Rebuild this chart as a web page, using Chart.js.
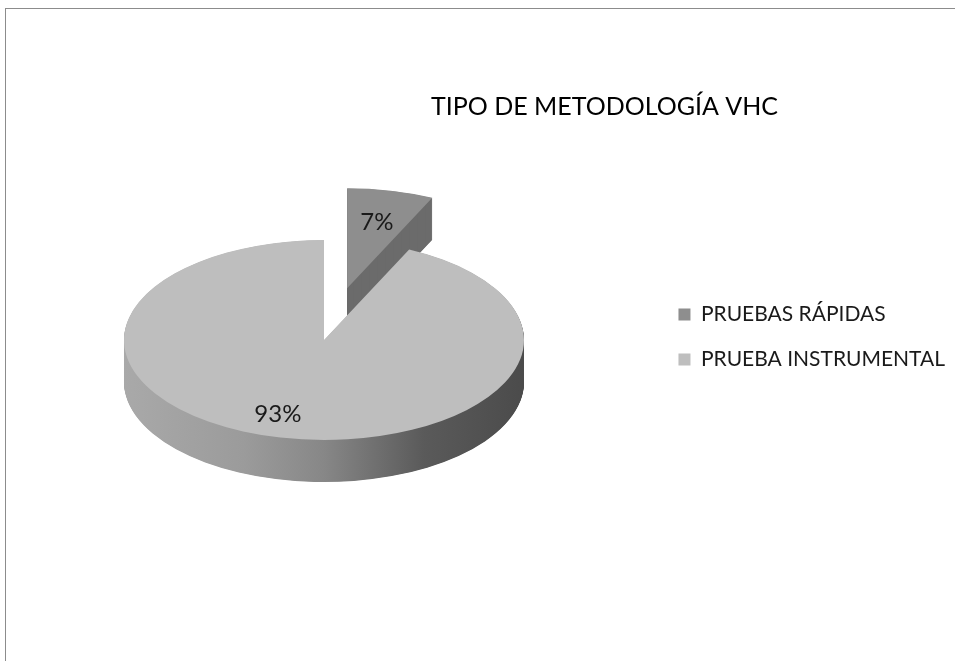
<!DOCTYPE html>
<html>
<head>
<meta charset="utf-8">
<script src="https://cdn.jsdelivr.net/npm/chart.js@4/dist/chart.umd.min.js"></script>
<style>
    html, body { margin: 0; padding: 0; background: #fff; }
    #frame { position: absolute; left: 5px; top: 8px; width: 1000px; height: 700px;
             border-left: 1px solid #8c8c8c; border-top: 1px solid #8c8c8c; }
    #wrap { position: absolute; left: 0; top: 0; width: 955px; height: 661px; }
</style>
</head>
<body>
<div id="frame"></div>
<div id="wrap"><canvas id="pieChart"></canvas></div>
<script>
const categories = ['PRUEBAS RÁPIDAS', 'PRUEBA INSTRUMENTAL'];
const percentages = [7, 93];
const topColors = ['#8e8e8e', '#bebebe'];
const explode = [106, 0];

/* vista 3D: centro en pantalla, inclinación y grosor */
const PIE_CENTER = { x: 324, y: 340 };
const TILT = 0.5;
const DEPTH = 84;

function arcShift(arc, i) {
    const half = (arc.startAngle + arc.endAngle) / 2;
    return { x: Math.cos(half) * explode[i], y: Math.sin(half) * explode[i] };
}

function applyView(ctx, arc) {
    ctx.translate(PIE_CENTER.x, PIE_CENTER.y);
    ctx.scale(1, TILT);
    ctx.translate(-arc.x, -arc.y);
}

const pie3d = {
    id: 'pie3d',
    beforeDatasetsDraw(chart) {
        const ctx = chart.ctx;
        const arcs = chart.getDatasetMeta(0).data;

        // separar la porción: cada arco se dibuja desplazado
        arcs.forEach((arc, i) => {
            if (arc._exploded) return;
            const baseDraw = arc.draw;
            arc.draw = function (c, area) {
                const s = arcShift(this, i);
                c.save();
                c.translate(s.x, s.y);
                baseDraw.call(this, c, area);
                c.restore();
            };
            arc._exploded = true;
        });

        ctx.save();
        applyView(ctx, arcs[0]);

        arcs.forEach((arc, i) => {
            const s = arcShift(arc, i);
            const cx = arc.x + s.x;
            const cy = arc.y + s.y;
            const r = arc.outerRadius;
            if (i === 0) {
                ctx.fillStyle = '#6b6b6b';
            } else {
                const g = ctx.createLinearGradient(cx - r, 0, cx + r, 0);
                g.addColorStop(0, '#a9a9a9');
                g.addColorStop(0.3, '#9b9b9b');
                g.addColorStop(0.5, '#878787');
                g.addColorStop(0.75, '#5a5a5a');
                g.addColorStop(1, '#4b4b4b');
                ctx.fillStyle = g;
            }
            for (let k = DEPTH; k > 0; k--) {
                ctx.beginPath();
                ctx.moveTo(cx, cy + k);
                ctx.arc(cx, cy + k, r, arc.startAngle, arc.endAngle);
                ctx.closePath();
                ctx.fill();
            }
        });
    },
    afterDatasetsDraw(chart) {
        chart.ctx.restore();
    },
    afterDraw(chart) {
        const ctx = chart.ctx;
        const arcs = chart.getDatasetMeta(0).data;
        const labelRadius = [0.68, 0.78];
        ctx.save();
        ctx.font = '24px Lato';
        ctx.fillStyle = '#1a1a1a';
        ctx.textAlign = 'center';
        ctx.textBaseline = 'middle';
        arcs.forEach((arc, i) => {
            const s = arcShift(arc, i);
            const mid = (arc.startAngle + arc.endAngle) / 2 + (i === 1 ? 0.08 : 0);
            const r = arc.outerRadius * labelRadius[i];
            const ux = arc.x + s.x + Math.cos(mid) * r;
            const uy = arc.y + s.y + Math.sin(mid) * r;
            const px = PIE_CENTER.x + (ux - arc.x);
            const py = PIE_CENTER.y + (uy - arc.y) * TILT;
            ctx.fillText(percentages[i] + '%', px, py);
        });
        ctx.restore();
    }
};

new Chart(document.getElementById('pieChart'), {
    type: 'pie',
    data: {
        labels: categories,
        datasets: [{
            data: percentages,
            backgroundColor: topColors,
            borderWidth: 0,
            radius: 200,
            rotation: 0,
            clip: false
        }]
    },
    options: {
        responsive: true,
        maintainAspectRatio: false,
        animation: false,
        layout: { padding: { left: 254, top: 13, right: 0, bottom: 0 } },
        plugins: {
            title: {
                display: true,
                text: 'TIPO DE METODOLOGÍA VHC',
                color: '#000',
                font: { family: 'Lato', size: 25, weight: 'normal' },
                padding: { top: 79, bottom: 36 }
            },
            legend: {
                position: 'right',
                labels: {
                    boxWidth: 12,
                    boxHeight: 12,
                    padding: 24,
                    color: '#1a1a1a',
                    font: { family: 'Lato', size: 21 }
                }
            },
            tooltip: { enabled: false }
        }
    },
    plugins: [pie3d]
});
</script>
</body>
</html>
